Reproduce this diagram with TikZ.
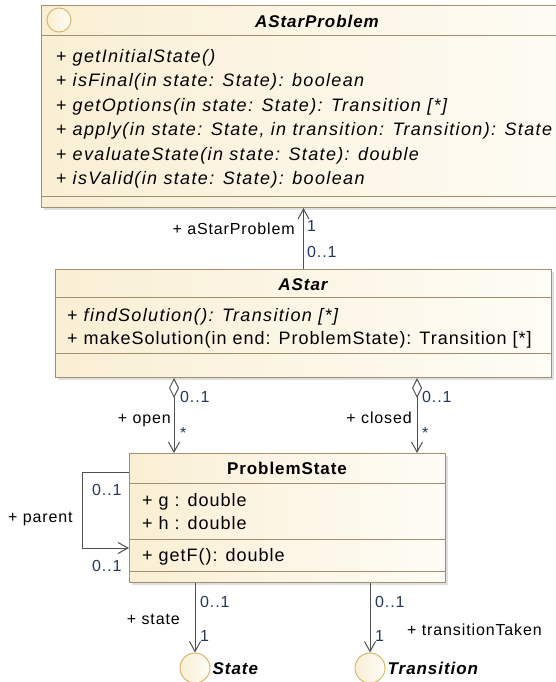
\documentclass[tikz,border=0pt]{standalone}
\usepackage{fontspec}
\setmainfont[LetterSpace=5.5, ItalicFeatures={LetterSpace=7.5}]{Liberation Sans}
\usetikzlibrary{positioning, calc, arrows.meta, shadows}
\definecolor{umlleft}{RGB}{249,239,212}
\definecolor{umlright}{RGB}{254,252,246}
\definecolor{umlline}{RGB}{160,145,110}
\definecolor{ifline}{RGB}{214,184,110}
\definecolor{assocline}{RGB}{80,80,80}
\definecolor{multc}{RGB}{35,55,95}

\begin{document}
\begin{tikzpicture}[x=1pt, y=-1pt,
	cls/.style={draw=umlline, line width=1pt, left color=umlleft, right color=umlright,
		anchor=north west, inner sep=0pt,
		drop shadow={shadow xshift=2pt, shadow yshift=-2pt, opacity=0.25}},
	sep/.style={draw=umlline, line width=1pt},
	mem/.style={anchor=west, inner sep=0pt, text height=13pt, text depth=0pt,
		font=\fontsize{18}{22}\selectfont},
	ttl/.style={inner sep=0pt, text height=12.5pt, text depth=0pt,
		font=\fontsize{17}{20}\selectfont\bfseries},
	lbl/.style={inner sep=0pt, text height=11.5pt, text depth=0pt,
		font=\fontsize{16}{19}\selectfont},
	mult/.style={lbl, text=multc},
	icon/.style={circle, draw=ifline, line width=1pt, left color=umlleft, right color=umlright,
		inner sep=0pt},
	assoc/.style={draw=assocline, line width=1pt, -{Straight Barb[length=10pt, width=11pt]}},
	aggr/.style={draw=assocline, line width=1pt,
		{Diamond[open, length=20pt, width=10pt]}-{Straight Barb[length=10pt, width=11pt]}}
	]
	\useasboundingbox (0,0) rectangle (556,682);
	\clip (0,0) rectangle (556,682);

	% classes
	\node[cls, minimum width=552pt, minimum height=202pt] (prob)  at (41,5)   {};
	\node[cls, minimum width=496pt, minimum height=108pt] (astar) at (55,269) {};
	\node[cls, minimum width=316pt, minimum height=129pt] (ps)    at (129,453) {};

	\draw[sep] ($(prob.north west)+(0,31)$)   -- ($(prob.north east)+(0,31)$);
	\draw[sep] ($(prob.north west)+(0,191)$)  -- ($(prob.north east)+(0,191)$);
	\draw[sep] ($(astar.north west)+(0,28)$)  -- ($(astar.north east)+(0,28)$);
	\draw[sep] ($(astar.north west)+(0,84)$)  -- ($(astar.north east)+(0,84)$);
	\draw[sep] ($(ps.north west)+(0,30)$)     -- ($(ps.north east)+(0,30)$);
	\draw[sep] ($(ps.north west)+(0,86)$)     -- ($(ps.north east)+(0,86)$);
	\draw[sep] ($(ps.north west)+(0,118)$)    -- ($(ps.north east)+(0,118)$);

	%AStarProblem
	\node[icon, minimum size=24pt] (probIcon) at (59,20) {};
	\node[ttl] (probT) at (317,21) {\itshape AStarProblem};
	\node[mem] (p1) at (56,56)    {+ \itshape getInitialState()};
	\node[mem] (p2) at (56,80.4)  {+ \itshape isFinal(in state: State): boolean};
	\node[mem] (p3) at (56,104.8) {+ \itshape getOptions(in state: State): Transition [*]};
	\node[mem] (p4) at (56,129.2) {+ \itshape apply(in state: State, in transition: Transition): State};
	\node[mem] (p5) at (56,153.6) {+ \itshape evaluateState(in state: State): double};
	\node[mem] (p6) at (56,178)   {+ \itshape isValid(in state: State): boolean};

	%AStar
	\node[ttl] (astarT) at (303,284) {\itshape AStar};
	\node[mem] (a1) at (67,315) {+ \itshape findSolution(): Transition [*]};
	\node[mem] (a2) at (67,338) {+ makeSolution(in end: ProblemState): Transition [*]};

	%ProblemState
	\node[ttl] (psT) at (287,468) {ProblemState};
	\node[mem] (s1) at (142,500) {+ g : double};
	\node[mem] (s2) at (142,523) {+ h : double};
	\node[mem] (s3) at (142,555) {+ getF(): double};

	% interfaces
	\node[icon, minimum size=30pt] (state) at (195,668) {};
	\node[icon, minimum size=30pt] (trans) at (370,668) {};
	\node[ttl, right=2pt of state] (stateL) {\itshape State};
	\node[ttl, right=2pt of trans] (transL) {\itshape Transition};

	% associations
	\coordinate (openX)   at (174,0);
	\coordinate (closedX) at (417,0);
	\draw[assoc] (astar.north) -- (astar.north |- prob.south);
	\draw[aggr] (astar.south -| openX) -- (ps.north -| openX);
	\draw[aggr] (astar.south -| closedX) -- (ps.north -| closedX);
	\draw[assoc] ($(ps.north west)+(0,19)$) -- ++(-47,0) |- ($(ps.north west)+(0,95)$);
	\draw[assoc] (ps.south -| state.north) -- (state.north);
	\draw[assoc] (ps.south -| trans.north) -- (trans.north);

	\node[lbl, anchor=east]  (aRole) at (295,229) {+ aStarProblem};
	\node[mult, anchor=west] (aM1)   at (307,226) {1};
	\node[mult, anchor=west] (aM2)   at (307,252) {0..1};
	\node[mult, anchor=west] (oM1)   at (180,397) {0..1};
	\node[lbl, anchor=east]  (oRole) at (171,418) {+ open};
	\node[mult, anchor=west] (oM2)   at (180,433) {*};
	\node[mult, anchor=west] (cM1)   at (422,397) {0..1};
	\node[lbl, anchor=east]  (cRole) at (412,418) {+ closed};
	\node[mult, anchor=west] (cM2)   at (422,433) {*};
	\node[mult, anchor=west] (pM1)   at (92,490)  {0..1};
	\node[lbl, anchor=west]  (pRole) at (8,517)   {+ parent};
	\node[mult, anchor=west] (pM2)   at (92,566)  {0..1};
	\node[mult, anchor=west] (sM1)   at (200,602) {0..1};
	\node[lbl, anchor=east]  (sRole) at (180,619) {+ state};
	\node[mult, anchor=west] (sM2)   at (200,636) {1};
	\node[mult, anchor=west] (tM1)   at (375,602) {0..1};
	\node[mult, anchor=west] (tM2)   at (375,636) {1};
	\node[lbl, anchor=west]  (tRole) at (407,630) {+ transitionTaken};
\end{tikzpicture}
\end{document}
